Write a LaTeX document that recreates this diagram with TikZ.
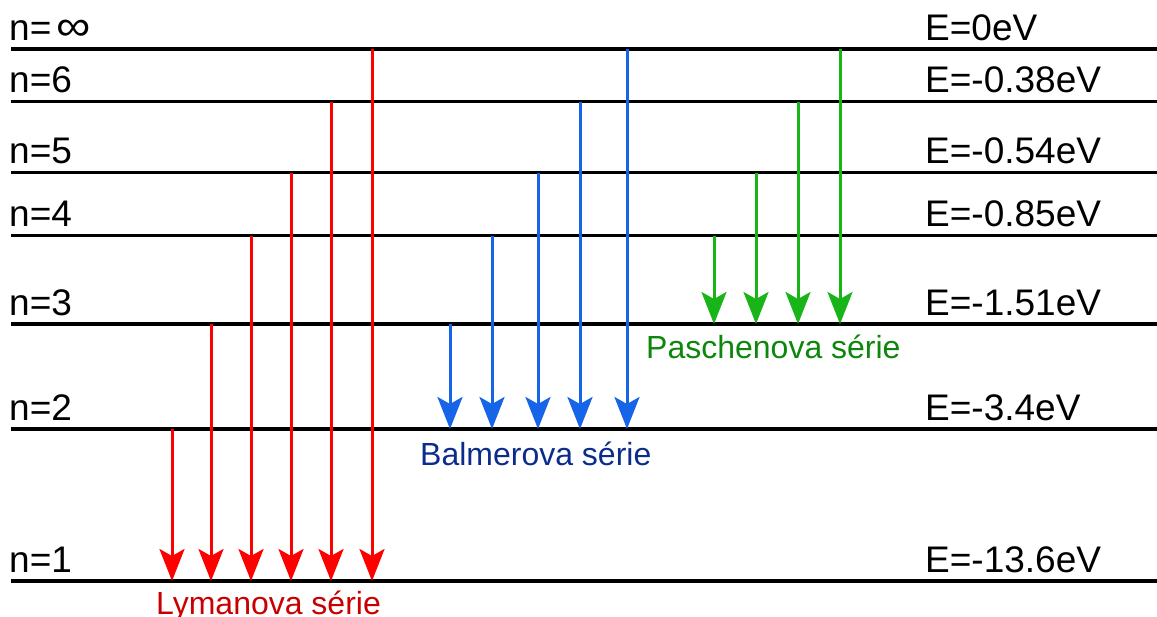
\documentclass[tikz,border=0pt]{standalone}
\usepackage{fontspec}
\setmainfont{Liberation Sans}
\usetikzlibrary{arrows.meta}
\definecolor{lymanred}{RGB}{255,0,0}
\definecolor{balmerblue}{RGB}{22,100,232}
\definecolor{paschengreen}{RGB}{24,180,24}
\definecolor{lymantext}{RGB}{200,0,0}
\definecolor{balmertext}{RGB}{12,44,140}
\definecolor{paschentext}{RGB}{12,135,12}
\tikzset{
  level/.style={line width=3.5pt, black},
  lvllabel/.style={anchor=base west, inner sep=0pt, font=\fontsize{37}{40}\selectfont},
  serlabel/.style={anchor=base west, inner sep=0pt, font=\fontsize{32}{36}\selectfont},
  trans/.style={line width=3pt, -{Stealth[length=32pt,width=25pt,inset=7pt]}},
}
\begin{document}
\begin{tikzpicture}[x=1pt,y=-1pt]
\useasboundingbox (0,0) rectangle (1157,616);
% level lines
\foreach \n/\y in {inf/49, 6/101.5, 5/172.5, 4/235.5, 3/324, 2/429, 1/581}{
  \coordinate (L\n) at (11,\y);
  \coordinate (R\n) at (1157,\y);
  \draw[level] (L\n) -- (R\n);
}
% labels
\foreach \n/\t/\e/\b in {inf/{n=\hspace{5pt}\scalebox{1.3}[1.15]{∞}}/{E=0eV}/40.5, 6/{n=6}/{E=-0.38eV}/92.5, 5/{n=5}/{E=-0.54eV}/163.5, 4/{n=4}/{E=-0.85eV}/226.5, 3/{n=3}/{E=-1.51eV}/315.5, 2/{n=2}/{E=-3.4eV}/420.5, 1/{n=1}/{E=-13.6eV}/572.5}{
  \node[lvllabel] (n\n) at (9,\b) {\t};
  \node[lvllabel] (E\n) at (925,\b) {\e};
}
% Lyman series
\foreach \n/\x in {2/172, 3/211, 4/251, 5/291, 6/331, inf/372}{
  \coordinate (ls\n) at (\x,0 |- L\n);
  \coordinate (le\n) at (\x,0 |- L1);
  \draw[trans, lymanred] (ls\n) -- (le\n);
}
% Balmer series
\foreach \n/\x in {3/450, 4/492, 5/538, 6/580, inf/627}{
  \coordinate (bs\n) at (\x,0 |- L\n);
  \coordinate (be\n) at (\x,0 |- L2);
  \draw[trans, balmerblue] (bs\n) -- (be\n);
}
% Paschen series
\foreach \n/\x in {4/714, 5/756, 6/798, inf/840}{
  \coordinate (ps\n) at (\x,0 |- L\n);
  \coordinate (pe\n) at (\x,0 |- L3);
  \draw[trans, paschengreen] (ps\n) -- (pe\n);
}
\node[serlabel, text=lymantext] (lyman) at (156,614) {Lymanova série};
\node[serlabel, text=balmertext] (balmer) at (420,465) {Balmerova série};
\node[serlabel, text=paschentext] (paschen) at (646,358) {Paschenova série};
\end{tikzpicture}
\end{document}
